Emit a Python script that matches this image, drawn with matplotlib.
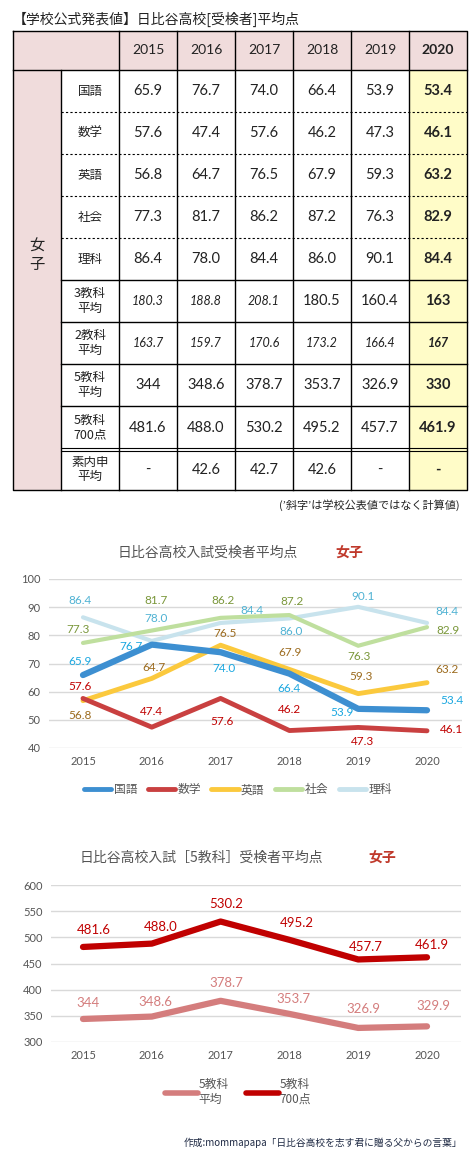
import matplotlib
matplotlib.use("Agg")
import matplotlib.pyplot as plt
from matplotlib.patches import Rectangle
from matplotlib.lines import Line2D

plt.rcParams['font.family'] = ['Noto Sans CJK JP', 'DejaVu Sans']

years = [2015, 2016, 2017, 2018, 2019, 2020]
row_labels = ["国語", "数学", "英語", "社会", "理科", "3教科\n平均", "2教科\n平均", "5教科\n平均", "5教科\n700点", "素内申\n平均"]
table_vals = [
    ["65.9", "76.7", "74.0", "66.4", "53.9", "53.4"],
    ["57.6", "47.4", "57.6", "46.2", "47.3", "46.1"],
    ["56.8", "64.7", "76.5", "67.9", "59.3", "63.2"],
    ["77.3", "81.7", "86.2", "87.2", "76.3", "82.9"],
    ["86.4", "78.0", "84.4", "86.0", "90.1", "84.4"],
    ["180.3", "188.8", "208.1", "180.5", "160.4", "163"],
    ["163.7", "159.7", "170.6", "173.2", "166.4", "167"],
    ["344", "348.6", "378.7", "353.7", "326.9", "330"],
    ["481.6", "488.0", "530.2", "495.2", "457.7", "461.9"],
    ["-", "42.6", "42.7", "42.6", "-", "-"],
]
italic_cells = {(5, 0), (5, 1), (5, 2), (6, 0), (6, 1), (6, 2), (6, 3), (6, 4), (6, 5)}

kokugo = [65.9, 76.7, 74.0, 66.4, 53.9, 53.4]
sugaku = [57.6, 47.4, 57.6, 46.2, 47.3, 46.1]
eigo = [56.8, 64.7, 76.5, 67.9, 59.3, 63.2]
shakai = [77.3, 81.7, 86.2, 87.2, 76.3, 82.9]
rika = [86.4, 78.0, 84.4, 86.0, 90.1, 84.4]
five_avg = [344, 348.6, 378.7, 353.7, 326.9, 329.9]
five_700 = [481.6, 488.0, 530.2, 495.2, 457.7, 461.9]

W, H = 476, 1162
fig = plt.figure(figsize=(W/100, H/100), dpi=100)
fig.patch.set_facecolor('white')

# ---------- table ----------
ta = fig.add_axes([0, 0, 1, 1])
ta.set_xlim(0, W); ta.set_ylim(H, 0); ta.axis('off')
pink = '#f0dcdc'; yellow = '#fffcc8'
L, T, R, B = 13, 31, 467, 490
col_x = [13, 61, 119, 177, 235, 293, 351, 409, 467]
hdr_b = 70
row_y = [70 + 42*i for i in range(10)] + [490]
row_y[9] = 449
ta.add_patch(Rectangle((L, T), R-L, hdr_b-T, fc=pink, ec='none'))
ta.add_patch(Rectangle((L, hdr_b), 61-L, B-hdr_b, fc=pink, ec='none'))
ta.add_patch(Rectangle((409, hdr_b), 58, B-hdr_b, fc=yellow, ec='none'))
lw = 1.0
ta.plot([L, R, R, L, L], [T, T, B, B, T], color='black', lw=lw)
ta.plot([L, R], [hdr_b, hdr_b], color='black', lw=lw)
for x in col_x[1:-1]:
    y0 = hdr_b if x == 61 else T
    ta.plot([x, x], [y0, B], color='black', lw=lw)
for i in range(1, 10):
    y = row_y[i]
    if i <= 4:
        ta.plot([61, R], [y, y], color='black', lw=0.8, ls=(0, (2, 2)))
    elif i == 9:
        ta.plot([61, R], [y - 1.5, y - 1.5], color='black', lw=0.8)
        ta.plot([61, R], [y + 1.5, y + 1.5], color='black', lw=0.8)
    else:
        ta.plot([61, R], [y, y], color='black', lw=lw)
ta.text(13, 19, "【学校公式発表値】日比谷高校[受検者]平均点", fontsize=10, va='center', ha='left', color='#222')
for j, yr in enumerate(years):
    cx = (col_x[j+2] + col_x[j+3]) / 2
    ta.text(cx, (T + hdr_b)/2, str(yr), ha='center', va='center', fontsize=10,
            family=['Lato', 'DejaVu Sans'], fontweight='bold' if j == 5 else 'normal', color='#222')
ta.text(37, 255, "女\n子", ha='center', va='center', fontsize=11, linespacing=1.1, color='#222')
for i, lab in enumerate(row_labels):
    cy = (row_y[i] + row_y[i+1]) / 2
    ta.text(90, cy, lab, ha='center', va='center', fontsize=9, linespacing=1.15, color='#222')
    for j, v in enumerate(table_vals[i]):
        cx = (col_x[j+2] + col_x[j+3]) / 2
        ta.text(cx, cy, v, ha='center', va='center',
                fontsize=9 if (i, j) in italic_cells else 10.5,
                family=['Lato', 'DejaVu Sans'],
                fontstyle='italic' if (i, j) in italic_cells else 'normal',
                fontweight='bold' if j == 5 else 'normal', color='#222')
ta.text(460, 505, "(\u2019斜字\u2019は学校公表値ではなく計算値)", ha='right', va='center', fontsize=8, color='#222')

def px_axes(x0, y0, x1, y1):
    return fig.add_axes([x0/W, 1 - y1/H, (x1-x0)/W, (y1-y0)/H])

def style_axes(ax, ymin, ymax, step):
    ax.set_ylim(ymin, ymax)
    ax.set_yticks(range(ymin, ymax + 1, step))
    ax.set_xticks(years)
    ax.grid(axis='y', color='#d9d9d9', lw=1)
    ax.set_axisbelow(True)
    for s in ax.spines.values():
        s.set_visible(False)
    ax.tick_params(length=0, labelsize=8, labelcolor='#555', pad=6)
    for lab in ax.get_xticklabels() + ax.get_yticklabels():
        lab.set_family(['Lato', 'DejaVu Sans'])

def xlims(ax, x0, x1):
    per = (427 - 83) / 5
    ax.set_xlim(2015 - (83 - x0)/per, 2020 + (x1 - 427)/per)

# ---------- chart 1 ----------
ax1 = px_axes(49, 579, 462, 748)
xlims(ax1, 49, 462)
style_axes(ax1, 40, 100, 10)
series1 = [
    ("国語", kokugo, '#3d8fd1', '#1aa7e0', 4.5,
     [(-3, -14), (-21, 2), (3, 16), (0, 15), (-16, 4), (25, -10)]),
    ("数学", sugaku, '#c94040', '#c00000', 3.5,
     [(-3, -12), (0, -16), (1, 23), (0, -21), (4, 14), (25, -1)]),
    ("英語", eigo, '#fbc93d', '#9c6b1e', 3.5,
     [(-3, 15), (2, -11), (4, -12), (1, -17), (3, -17), (20, -13)]),
    ("社会", shakai, '#bfdf9e', '#7a973a', 3.0,
     [(-5, -13), (4, -30), (2, -17), (3, -14), (1, 11), (21, 3)]),
    ("理科", rika, '#c8e3ed', '#4fb2d3', 3.0,
     [(-3, -17), (4, -22), (31, -12), (2, 13), (5, -10), (20, -11)]),
]
handles = []
for name, vals, lc, tc, w, offs in reversed(series1):
    ax1.plot(years, vals, color=lc, lw=w, solid_capstyle='round', solid_joinstyle='round', zorder=3)
    for x, v, (dx, dy) in zip(years, vals, offs):
        ax1.annotate(f"{v:.1f}", (x, v), xytext=(dx*0.72, -dy*0.72), textcoords='offset points',
                     ha='center', va='center', fontsize=8.5, color=tc,
                     family=['Lato', 'DejaVu Sans'], zorder=5)
for name, vals, lc, tc, w, offs in series1:
    handles.append(Line2D([0], [0], color=lc, lw=3.5, solid_capstyle='round'))
fig.legend(handles, [s[0] for s in series1], loc='center', bbox_to_anchor=(0.5, 1 - 790/H),
           ncol=5, frameon=False, fontsize=8.5, handlelength=2.3, handletextpad=0.2,
           columnspacing=0.9, labelcolor='#555')
fig.text(118/W, 1 - 553/H, "日比谷高校入試受検者平均点", ha='left', va='center', fontsize=10, color='#555')
fig.text(335/W, 1 - 553/H, "女子", ha='left', va='center', fontsize=10, color='#c0392b', fontweight='bold')

# ---------- chart 2 ----------
ax2 = px_axes(51, 885, 461, 1042)
xlims(ax2, 51, 461)
style_axes(ax2, 300, 600, 50)
series2 = [
    ("5教科\n平均", five_avg, '#d47d7d', '#d47d7d',
     [(5, -16), (4, -15), (6, -18), (4, -15), (5, -19), (6, -20)]),
    ("5教科\n700点", five_700, '#c00000', '#c00000',
     [(11, -17), (9, -17), (6, -18), (7, -17), (8, -12), (5, -12)]),
]
h2 = []
for name, vals, lc, tc, offs in series2:
    ax2.plot(years, vals, color=lc, lw=4.5, solid_capstyle='round', solid_joinstyle='round', zorder=3)
    for x, v, (dx, dy) in zip(years, vals, offs):
        txt = f"{v:g}" if x == 2015 and v == 344 else f"{v:.1f}"
        ax2.annotate(txt, (x, v), xytext=(dx*0.72, -dy*0.72), textcoords='offset points',
                     ha='center', va='center', fontsize=9.5, color=tc,
                     family=['Lato', 'DejaVu Sans'], zorder=5)
    h2.append(Line2D([0], [0], color=lc, lw=4, solid_capstyle='round'))
fig.legend(h2, [s[0] for s in series2], loc='center', bbox_to_anchor=(0.5, 1 - 1092/H),
           ncol=2, frameon=False, fontsize=8.5, handlelength=2.8, handletextpad=0.0,
           columnspacing=1.5, labelcolor='#555')
fig.text(80/W, 1 - 858/H, "日比谷高校入試［5教科］受検者平均点", ha='left', va='center', fontsize=10, color='#555')
fig.text(368/W, 1 - 858/H, "女子", ha='left', va='center', fontsize=10, color='#c0392b', fontweight='bold')

fig.text(462/W, 1 - 1143/H, "作成:mommapapa「日比谷高校を志す君に贈る父からの言葉」", ha='right', va='center',
         fontsize=7, color='#1f2a44')

fig.savefig("out.png", dpi=100, facecolor='white')
